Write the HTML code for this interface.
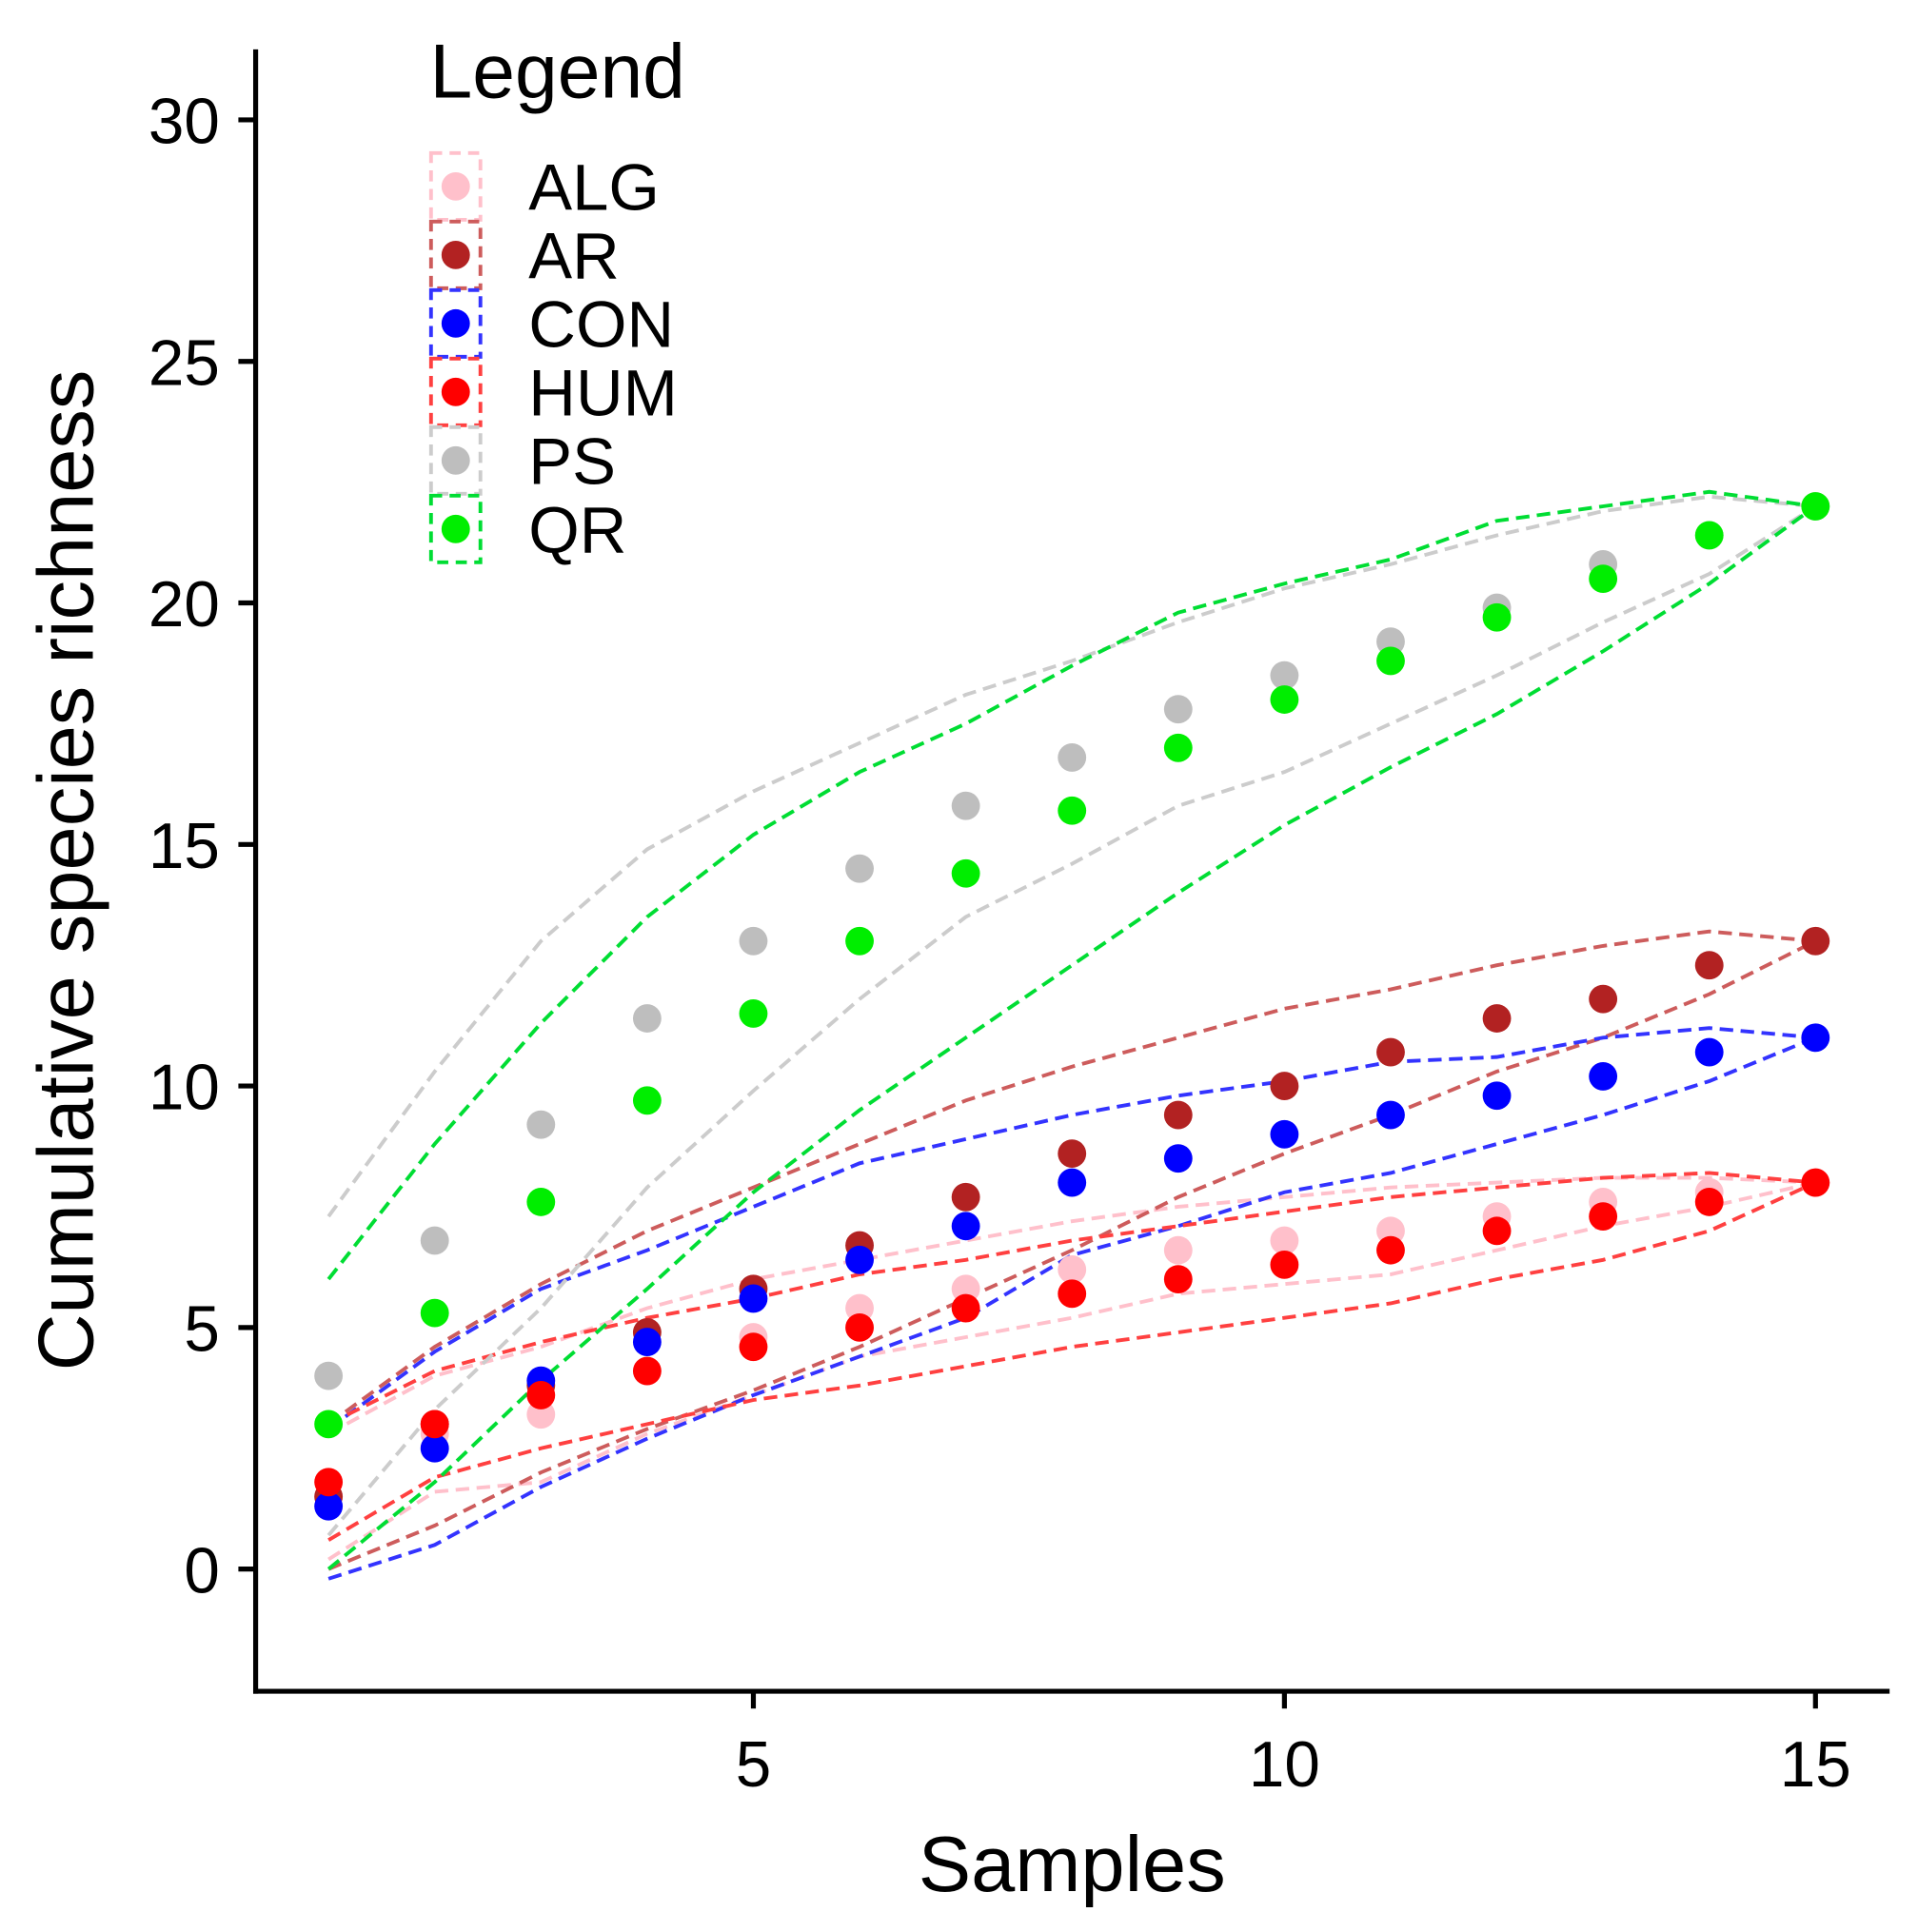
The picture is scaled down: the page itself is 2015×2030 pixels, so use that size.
<!DOCTYPE html>
<html><head><meta charset="utf-8"><style>
html,body{margin:0;padding:0;background:#fff;}
svg{display:block;font-family:"Liberation Sans",Arial,sans-serif;}
</style></head><body>
<svg id="chart" width="2015" height="2030" viewBox="0 0 1553 1565" preserveAspectRatio="none">
<g id="bands"></g><g id="pts"></g><g id="axes"></g><g id="legend"></g>
</svg>
<script>
const samples=[1,2,3,4,5,6,7,8,9,10,11,12,13,14,15];
const yTicks=[0,5,10,15,20,25,30];
const xTicks=[5,10,15];
const seriesNames=["ALG","AR","CON","HUM","PS","QR"];
const colors=["#ffc0cb","#b22222","#0000ff","#ff0000","#bebebe","#00ee00"];
const lineColors=["#ffc0cb","#cd5c5c","#3333ff","#ff4040","#cccccc","#00dd33"];
const ALG=[1.5,2.8,3.2,4.1,4.8,5.4,5.8,6.2,6.6,6.8,7.0,7.3,7.6,7.8,8];
const AR=[1.5,3.0,3.8,4.9,5.8,6.7,7.7,8.6,9.4,10.0,10.7,11.4,11.8,12.5,13];
const CON=[1.3,2.5,3.9,4.7,5.6,6.4,7.1,8.0,8.5,9.0,9.4,9.8,10.2,10.7,11];
const HUM=[1.8,3.0,3.6,4.1,4.6,5.0,5.4,5.7,6.0,6.3,6.6,7.0,7.3,7.6,8];
const PS=[4.0,6.8,9.2,11.4,13.0,14.5,15.8,16.8,17.8,18.5,19.2,19.9,20.8,21.4,22];
const QR=[3.0,5.3,7.6,9.7,11.5,13.0,14.4,15.7,17.0,18.0,18.8,19.7,20.5,21.4,22];
const ALG_hi=[2.8,4.0,4.6,5.4,6.0,6.4,6.8,7.2,7.5,7.7,7.9,8.0,8.1,8.1,8];
const ALG_lo=[0.2,1.6,1.8,2.8,3.6,4.4,4.8,5.2,5.7,5.9,6.1,6.6,7.1,7.5,8];
const AR_hi=[3,4.6,5.9,7.0,7.9,8.8,9.7,10.4,11.0,11.6,12.0,12.5,12.9,13.2,13];
const AR_lo=[0,0.9,2.0,2.9,3.7,4.6,5.6,6.6,7.7,8.6,9.4,10.3,11,11.9,13];
const CON_hi=[2.9,4.5,5.8,6.6,7.5,8.4,8.9,9.4,9.8,10.1,10.5,10.6,11.0,11.2,11];
const CON_lo=[-0.2,0.5,1.7,2.7,3.6,4.4,5.2,6.5,7.1,7.8,8.2,8.8,9.4,10.1,11];
const HUM_hi=[3,4.1,4.7,5.2,5.6,6.1,6.4,6.8,7.1,7.4,7.7,7.9,8.1,8.2,8];
const HUM_lo=[0.6,1.9,2.5,3.0,3.5,3.8,4.2,4.6,4.9,5.2,5.5,6.0,6.4,7.0,8];
const PS_hi=[7.3,10.3,13,14.9,16.1,17.1,18.1,18.8,19.6,20.3,20.8,21.4,21.9,22.2,22];
const PS_lo=[0.7,3.3,5.4,7.9,9.9,11.8,13.5,14.6,15.8,16.5,17.5,18.5,19.6,20.6,22];
const QR_hi=[6,8.8,11.3,13.5,15.2,16.5,17.5,18.7,19.8,20.4,20.9,21.7,22,22.3,22];
const QR_lo=[0,1.8,3.9,5.8,7.8,9.5,11,12.5,14,15.4,16.6,17.7,19,20.4,22];

const vals=[ALG,AR,CON,HUM,PS,QR],his=[ALG_hi,AR_hi,CON_hi,HUM_hi,PS_hi,QR_hi],los=[ALG_lo,AR_lo,CON_lo,HUM_lo,PS_lo,QR_lo];
const NS="http://www.w3.org/2000/svg";
const X=v=>266+(v-1)*86, Y=v=>1271-v*39.13;
function mk(tag,attrs,parent){const e=document.createElementNS(NS,tag);for(const k in attrs)e.setAttribute(k,attrs[k]);parent.appendChild(e);return e;}
const bands=document.getElementById('bands'),pts=document.getElementById('pts'),axes=document.getElementById('axes'),leg=document.getElementById('legend');
vals.forEach((v,s)=>{
  [his[s],los[s]].forEach((arr,j)=>{
    const d=arr.map((y,i)=>(i?'L':'M')+X(samples[i])+','+Y(y)).join(' ');
    const p=mk('path',{d:d,fill:'none',stroke:lineColors[s],'stroke-width':3,'stroke-dasharray':'11,6'},bands);
    
    
  });
});
vals.forEach((v,s)=>{
  v.forEach((y,i)=>{
    const c=mk('circle',{cx:X(samples[i]),cy:Y(y),r:11.5,fill:colors[s]},pts);
    
    
  });
});
const ya=mk('line',{x1:207,y1:40,x2:207,y2:1372,stroke:'#000','stroke-width':4},axes);

const xa=mk('line',{x1:205,y1:1370,x2:1530,y2:1370,stroke:'#000','stroke-width':4},axes);

yTicks.forEach(t=>{
  mk('line',{x1:193,y1:Y(t),x2:207,y2:Y(t),stroke:'#000','stroke-width':4},axes);
  const tx=mk('text',{x:178,y:Y(t)+19,'text-anchor':'end','font-size':52},axes);tx.textContent=t;
  
});
xTicks.forEach(t=>{
  mk('line',{x1:X(t),y1:1370,x2:X(t),y2:1384,stroke:'#000','stroke-width':4},axes);
  const tx=mk('text',{x:X(t),y:1447,'text-anchor':'middle','font-size':52},axes);tx.textContent=t;
  
});
const xt=mk('text',{x:868,y:1532,'text-anchor':'middle','font-size':64},axes);xt.textContent='Samples';

const yt=mk('text',{x:0,y:0,'text-anchor':'middle','font-size':64,transform:'translate(75,705) rotate(-90)'},axes);yt.textContent='Cumulative species richness';

const lt=mk('text',{x:348,y:79,'font-size':62},leg);lt.textContent='Legend';

seriesNames.forEach((n,s)=>{
  const cy=151+s*55.5;
  const g=mk('g',{},leg);
  
  
  mk('rect',{x:349,y:cy-27,width:40,height:54,fill:'none',stroke:lineColors[s],'stroke-width':3,'stroke-dasharray':'9,6'},g);
  mk('circle',{cx:369,cy:cy,r:11.5,fill:colors[s]},g);
  const t=mk('text',{x:428,y:cy+19,'font-size':53},g);t.textContent=n;
});
</script>
</body></html>
